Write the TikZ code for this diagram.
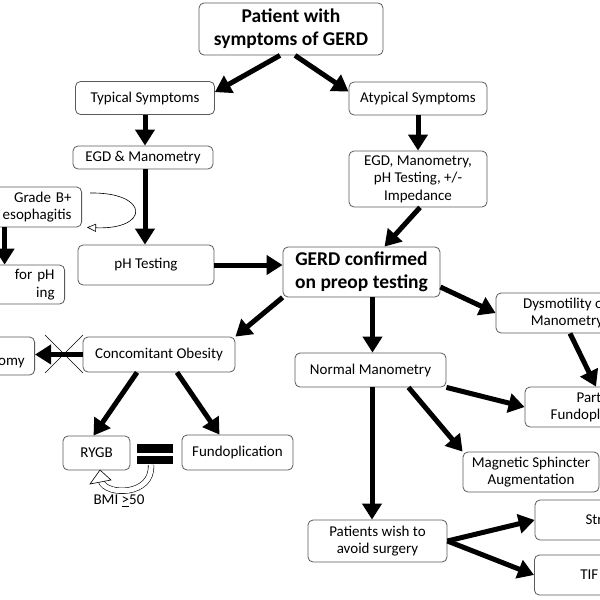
\documentclass[tikz,border=0pt]{standalone}
\usepackage{fontspec}
\setmainfont{Carlito}
\usepackage{tikz}
\usetikzlibrary{arrows.meta,positioning}
\definecolor{boxline}{RGB}{90,90,90}

\begin{document}
\begin{tikzpicture}[x=1pt,y=-1pt,
    bx/.style={draw=boxline,fill=white,rounded corners=5pt,line width=0.8pt,align=center,inner sep=2pt,font=\fontsize{15}{17.5}\selectfont},
    hd/.style={bx,font=\bfseries\fontsize{19.5}{23}\selectfont},
    arr/.style={line width=5pt,-{Triangle[length=16pt,width=19pt]}}]
  \useasboundingbox (0,0) rectangle (600,600);
  \clip (0,0) rectangle (600,600);
  % top of the tree
  \node[hd,minimum width=184pt,minimum height=52pt] (pat) at (291,29) {Patient with\\symptoms of GERD};
  \node[bx,minimum width=139pt,minimum height=33pt] (typ) at (145,98) {Typical Symptoms};
  \node[bx,minimum width=138pt,minimum height=33pt] (atyp) at (418,98.5) {Atypical Symptoms};
  \node[bx,minimum width=140pt,minimum height=23pt] (egdm) at (143,157.5) {EGD \& Manometry};
  \node[bx,minimum width=138pt,minimum height=56pt] (egdi) at (418,179) {EGD, Manometry,\\pH Testing, +/-\\Impedance};
  % left edge, cut off
  \node[bx,anchor=east,text width=122pt,inner xsep=10pt,align=right,minimum height=40pt] (grade) at (82,207) {Grade B+\hspace*{30pt}\\esophagitis};
  \node[bx,anchor=east,text width=122pt,inner xsep=10pt,align=right,minimum height=39pt] (forph) at (65,284.5) {for pH\hspace*{13pt}\\ing\hspace*{37pt}};
  \node[bx,minimum width=136pt,minimum height=40pt] (ph) at (146,265) {pH Testing};
  \node[hd,minimum width=157pt,minimum height=50pt] (gerd) at (361.5,272) {GERD confirmed\\on preop testing};
  % right edge, cut off
  \node[bx,minimum width=142pt,minimum height=40pt] (dys) at (567,313) {Dysmotility on\\Manometry};
  \node[bx,minimum width=142pt,minimum height=40pt] (part) at (596,407) {Partial\\Fundoplication};
  % lower half
  \node[bx,minimum width=152pt,minimum height=35pt] (obes) at (159,354.5) {Concomitant Obesity};
  \node[bx,anchor=east,text width=122pt,inner xsep=10pt,align=right,minimum height=38pt,text height=8pt,text depth=3pt] (slv) at (35,356) {\raisebox{-7pt}{omy}\hspace*{7pt}};
  \node[bx,minimum width=151pt,minimum height=34pt] (norm) at (370.5,370) {Normal Manometry};
  \node[bx,minimum width=136pt,minimum height=40pt] (msa) at (531,472) {Magnetic Sphincter\\Augmentation};
  \node[bx,minimum width=139pt,minimum height=42pt] (wish) at (377.5,541) {Patients wish to\\avoid surgery};
  \node[bx,minimum width=67pt,minimum height=34pt] (rygb) at (96.5,453) {RYGB};
  \node[bx,minimum width=111pt,minimum height=35pt] (fundo) at (237.5,452.5) {Fundoplication};
  \node[bx,minimum width=142pt,minimum height=40pt] (str) at (606,520) {Stretta};
  \node[bx,anchor=west,text width=122pt,inner xsep=10pt,align=left,minimum height=40pt] (tif) at (534,575) {\hspace*{36pt}TIF};
  \node[font=\fontsize{15}{17.5}\selectfont] (bmi) at (119,501) {BMI \underline{>}50};
  % thick arrows
  \draw[arr] ([xshift=-11pt]pat.south) -- ([yshift=-11pt]typ.north east);
  \draw[arr] ([xshift=4pt]pat.south) -- ([yshift=-10pt]atyp.north west);
  \draw[arr] (typ.south) -- (typ.south |- egdm.north);
  \draw[arr] (atyp.south) -- (atyp.south |- egdi.north);
  \draw[arr] ([xshift=2pt]egdm.south) -- ([xshift=2pt]egdm.south |- ph.north);
  \draw[arr] ([xshift=-6pt]grade.south) -- ([xshift=-6pt]grade.south |- forph.north);
  \draw[arr] (ph.east) -- (ph.east -| gerd.west);
  \draw[arr] ([xshift=2pt]egdi.south) -- ([xshift=23pt]gerd.north);
  \draw[arr] (gerd.south west) -- (obes.north east);
  \draw[arr] ([xshift=11pt]gerd.south) -- ([xshift=11pt]gerd.south |- norm.north);
  \draw[arr] ([yshift=-15pt]gerd.east) -- (dys.west);
  \draw[arr] ([xshift=3pt]dys.south) -- (part.north);
  \draw[arr] (norm.south east) -- (part.west);
  \draw[arr] ([xshift=38pt]norm.south) -- (msa.north west);
  \draw[arr] ([xshift=1.5pt]norm.south) -- ([xshift=1.5pt]norm.south |- wish.north);
  \draw[arr] (obes.west) -- (obes.west -| slv.east);
  \draw[arr] ([xshift=-22pt]obes.south) -- ([xshift=-3pt]rygb.north);
  \draw[arr] ([xshift=18pt]obes.south) -- ([xshift=-18pt]fundo.north);
  \draw[arr] (wish.east) -- (str.west);
  \draw[arr] (wish.east) -- (tif.west);
  % crossed out
  \draw[line width=0.6pt] (45,335) -- (83,373);
  \draw[line width=0.6pt] (83,335) -- (45,373);
  % equals sign
  \fill (137,444) rectangle (173,453);
  \fill (137,456) rectangle (173,464);
  % loop beside grade box
  \coordinate (lp) at (90,193);
  \draw[line width=0.6pt,-{Triangle[open,length=9pt,width=8pt]}] (lp) .. controls (150,192) and (150,230) .. ([xshift=5pt]grade.south east);
  % hollow curved arrow
  \draw[line width=0.6pt,double=white,double distance=5pt] (151,465) .. controls (153,496) and (106,496) .. (101,481);
  \filldraw[fill=white,line width=0.6pt] (100,470) -- (90,484) -- (111,480) -- cycle;
\end{tikzpicture}
\end{document}
